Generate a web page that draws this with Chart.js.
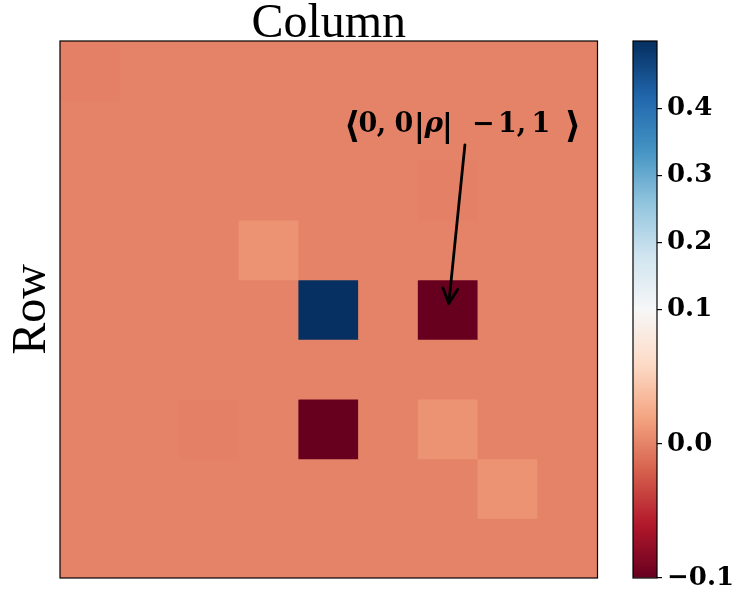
<!DOCTYPE html>
<html>
<head>
<meta charset="utf-8">
<script src="https://cdn.jsdelivr.net/npm/chart.js@4/dist/chart.umd.min.js"></script>
<style>
  html, body { margin: 0; padding: 0; background: #ffffff; }
  #wrap { position: relative; width: 736px; height: 602px; }
  #wrap canvas { position: absolute; top: 0; }
</style>
</head>
<body>
<div id="wrap">
  <canvas id="heat" width="600" height="602" style="left:0;width:600px;height:602px"></canvas>
  <canvas id="cbar" width="136" height="602" style="left:600px;width:136px;height:602px"></canvas>
</div>
<script>
// Two-mode basis |m1, m2>, ordered from +1 down to -1
const basisStates = ["1,1", "1,0", "1,-1", "0,1", "0,0", "0,-1", "-1,1", "-1,0", "-1,-1"];

// Density-matrix rows <row| rho |col>
const rowP1P1 = [-0.0015, 0, 0, 0, 0, 0, 0, 0, 0];
const rowP1Z  = [0, 0, 0, 0, 0, 0, 0, 0, 0];
const rowP1M1 = [0, 0, 0, 0, 0, 0, -0.0015, 0, 0];
const rowZP1  = [0, 0, 0, 0.01, 0, 0, 0, 0, 0];
const rowZZ   = [0, 0, 0, 0, 0.5, 0, -0.1, 0, 0];
const rowZM1  = [0, 0, 0, 0, 0, 0, 0, 0, 0];
const rowM1P1 = [0, 0, -0.0015, 0, -0.1, 0, 0.01, 0, 0];
const rowM1Z  = [0, 0, 0, 0, 0, 0, 0, 0.01, 0];
const rowM1M1 = [0, 0, 0, 0, 0, 0, 0, 0, 0];
const rhoRows = [rowP1P1, rowP1Z, rowP1M1, rowZP1, rowZZ, rowZM1, rowM1P1, rowM1Z, rowM1M1];

// Colour bar ticks
const cbarTickValues = [-0.1, 0.0, 0.1, 0.2, 0.3, 0.4];
const cbarTickLabels = ["\u22120.1", "0.0", "0.1", "0.2", "0.3", "0.4"];

// Annotated element <0,0| rho |-1,1>
const annotRow = 4;
const annotCol = 6;

// Two-slope normalisation around 0.1
const vMin = -0.1, vCenter = 0.1, vMax = 0.5;
function norm(v) {
  if (v <= vCenter) return Math.max(0, 0.5 * (v - vMin) / (vCenter - vMin));
  return Math.min(1, 0.5 + 0.5 * (v - vCenter) / (vMax - vCenter));
}

// Diverging red-blue colour map
const rdbu = [
  [103, 0, 31], [178, 24, 43], [214, 96, 77], [244, 165, 130], [253, 219, 199],
  [247, 247, 247], [209, 229, 240], [146, 197, 222], [67, 147, 195], [33, 102, 172], [5, 48, 97]
];
function cmap(t) {
  const idx = Math.min(255, Math.floor(t * 256));
  const s = idx / 255 * (rdbu.length - 1);
  const i = Math.min(rdbu.length - 2, Math.floor(s));
  const f = s - i;
  const a = rdbu[i], b = rdbu[i + 1];
  const c = a.map((x, k) => Math.round(x + (b[k] - x) * f));
  return `rgb(${c[0]},${c[1]},${c[2]})`;
}
const colorFor = v => cmap(norm(v));

const SERIF = '"Liberation Serif", "DejaVu Serif", serif';
const BOLDSERIF = '"DejaVu Serif", serif';

// Frame, axis captions and the arrow annotation for the matrix plot
const heatDecor = {
  id: 'heatDecor',
  afterDatasetsDraw(chart) {
    const { ctx, chartArea: ca } = chart;
    ctx.save();
    ctx.strokeStyle = '#000';
    ctx.lineWidth = 1.2;
    ctx.strokeRect(ca.left, ca.top, ca.right - ca.left, ca.bottom - ca.top);
    ctx.restore();
  },
  afterDraw(chart) {
    const { ctx, chartArea: ca } = chart;
    const xs = chart.scales.x, ys = chart.scales.y;
    const cellW = xs.getPixelForValue(1) - xs.getPixelForValue(0);
    const colPx = c => xs.getPixelForValue(0) + c * cellW;

    ctx.save();
    ctx.fillStyle = '#000';
    ctx.font = `48px ${SERIF}`;
    ctx.textAlign = 'center';
    ctx.textBaseline = 'alphabetic';
    ctx.fillText('Column', (ca.left + ca.right) / 2, ca.top - 4);

    ctx.save();
    ctx.translate(ca.left - 15, (ca.top + ca.bottom) / 2);
    ctx.rotate(-Math.PI / 2);
    ctx.fillText('Row', 0, 0);
    ctx.restore();

    // arrow from the label down to the annotated cell
    const tx = colPx(annotCol + 0.28), ty = ys.getPixelForValue(1.74);
    const hx0 = colPx(annotCol), hy0 = ys.getPixelForValue(annotRow + 0.5);
    const dx = hx0 - tx, dy = hy0 - ty, len = Math.hypot(dx, dy);
    const ux = dx / len, uy = dy / len;
    const hx = hx0 - ux * 6, hy = hy0 - uy * 6;
    ctx.strokeStyle = '#000';
    ctx.lineWidth = 2.8;
    ctx.lineCap = 'round';
    ctx.lineJoin = 'round';
    ctx.beginPath();
    ctx.moveTo(tx, ty);
    ctx.lineTo(hx, hy);
    ctx.stroke();
    const hl = 15, hw = 7.5;
    ctx.beginPath();
    ctx.moveTo(hx - ux * hl - uy * hw, hy - uy * hl + ux * hw);
    ctx.lineTo(hx, hy);
    ctx.lineTo(hx - ux * hl + uy * hw, hy - uy * hl - ux * hw);
    ctx.stroke();

    // label <0,0|rho|-1,1>, glyph by glyph
    const cx = colPx(annotCol + 0.23);
    const base = ys.getPixelForValue(1.52);
    const digit = `bold 27px ${BOLDSERIF}`;
    const glyphs = [
      ['\u27E8', -110, `bold 36px ${BOLDSERIF}`, 5],
      ['0', -94, digit, 0],
      [',', -80.5, digit, 0],
      ['0', -58, digit, 0],
      ['|', -42.5, `bold 31px ${BOLDSERIF}`, 4],
      ['\u03C1', -28, `italic bold 28px ${BOLDSERIF}`, 0],
      ['|', -14.5, `bold 31px ${BOLDSERIF}`, 4],
      ['\u2212', 21.5, digit, 0],
      ['1', 45.5, digit, 0],
      [',', 59.5, digit, 0],
      ['1', 79, digit, 0],
      ['\u27E9', 111, `bold 36px ${BOLDSERIF}`, 5]
    ];
    ctx.textAlign = 'center';
    for (const [g, dxg, f, drop] of glyphs) {
      ctx.font = f;
      ctx.fillText(g, cx + dxg, base + drop);
    }
    ctx.restore();
  }
};

new Chart(document.getElementById('heat'), {
  type: 'bar',
  data: {
    labels: basisStates,
    datasets: rhoRows.map((row, r) => ({
      label: basisStates[r],
      data: row.map(() => 1),
      backgroundColor: row.map(colorFor),
      borderWidth: 0,
      inflateAmount: 0.5,
      barPercentage: 1,
      categoryPercentage: 1,
      stack: 'rho'
    }))
  },
  options: {
    responsive: false,
    animation: false,
    devicePixelRatio: 1,
    layout: { padding: { left: 60, top: 41, right: 2.5, bottom: 24 } },
    plugins: { legend: { display: false }, tooltip: { enabled: false } },
    scales: {
      x: { type: 'category', display: false, stacked: true },
      y: { type: 'linear', display: false, stacked: true, min: 0, max: 9, reverse: true }
    }
  },
  plugins: [heatDecor]
});

// Colour bar
const cbarFrame = {
  id: 'cbarFrame',
  afterDatasetsDraw(chart) {
    const { ctx, chartArea: ca } = chart;
    ctx.save();
    ctx.strokeStyle = '#000';
    ctx.lineWidth = 1.2;
    ctx.strokeRect(ca.left, ca.top, ca.right - ca.left, ca.bottom - ca.top);
    ctx.restore();
  }
};

new Chart(document.getElementById('cbar'), {
  type: 'bar',
  data: {
    labels: ['rho'],
    datasets: [{
      data: [[0, 1]],
      borderWidth: 0,
      barPercentage: 1,
      categoryPercentage: 1,
      backgroundColor(context) {
        const chart = context.chart;
        const ca = chart.chartArea;
        if (!ca) return 'rgba(0,0,0,0)';
        const g = chart.ctx.createLinearGradient(0, ca.bottom, 0, ca.top);
        for (let i = 0; i <= 64; i++) g.addColorStop(i / 64, cmap(i / 64));
        return g;
      }
    }]
  },
  options: {
    responsive: false,
    animation: false,
    devicePixelRatio: 1,
    layout: { padding: { left: 33, top: 41, right: 0, bottom: 24 } },
    plugins: { legend: { display: false }, tooltip: { enabled: false } },
    scales: {
      x: { display: false },
      y: {
        type: 'linear',
        position: 'right',
        min: 0,
        max: 1,
        bounds: 'data',
        afterBuildTicks(scale) {
          scale.ticks = cbarTickValues.map(v => ({ value: norm(v) }));
        },
        afterFit(scale) { scale.width = 79; },
        border: { display: false },
        grid: { drawOnChartArea: false, drawTicks: true, tickLength: 5, color: '#000', lineWidth: 1.2 },
        ticks: {
          padding: 5,
          color: '#000',
          font: { family: BOLDSERIF, size: 26, weight: 'bold' },
          callback: (val, i) => cbarTickLabels[i]
        }
      }
    }
  },
  plugins: [cbarFrame]
});
</script>
</body>
</html>
